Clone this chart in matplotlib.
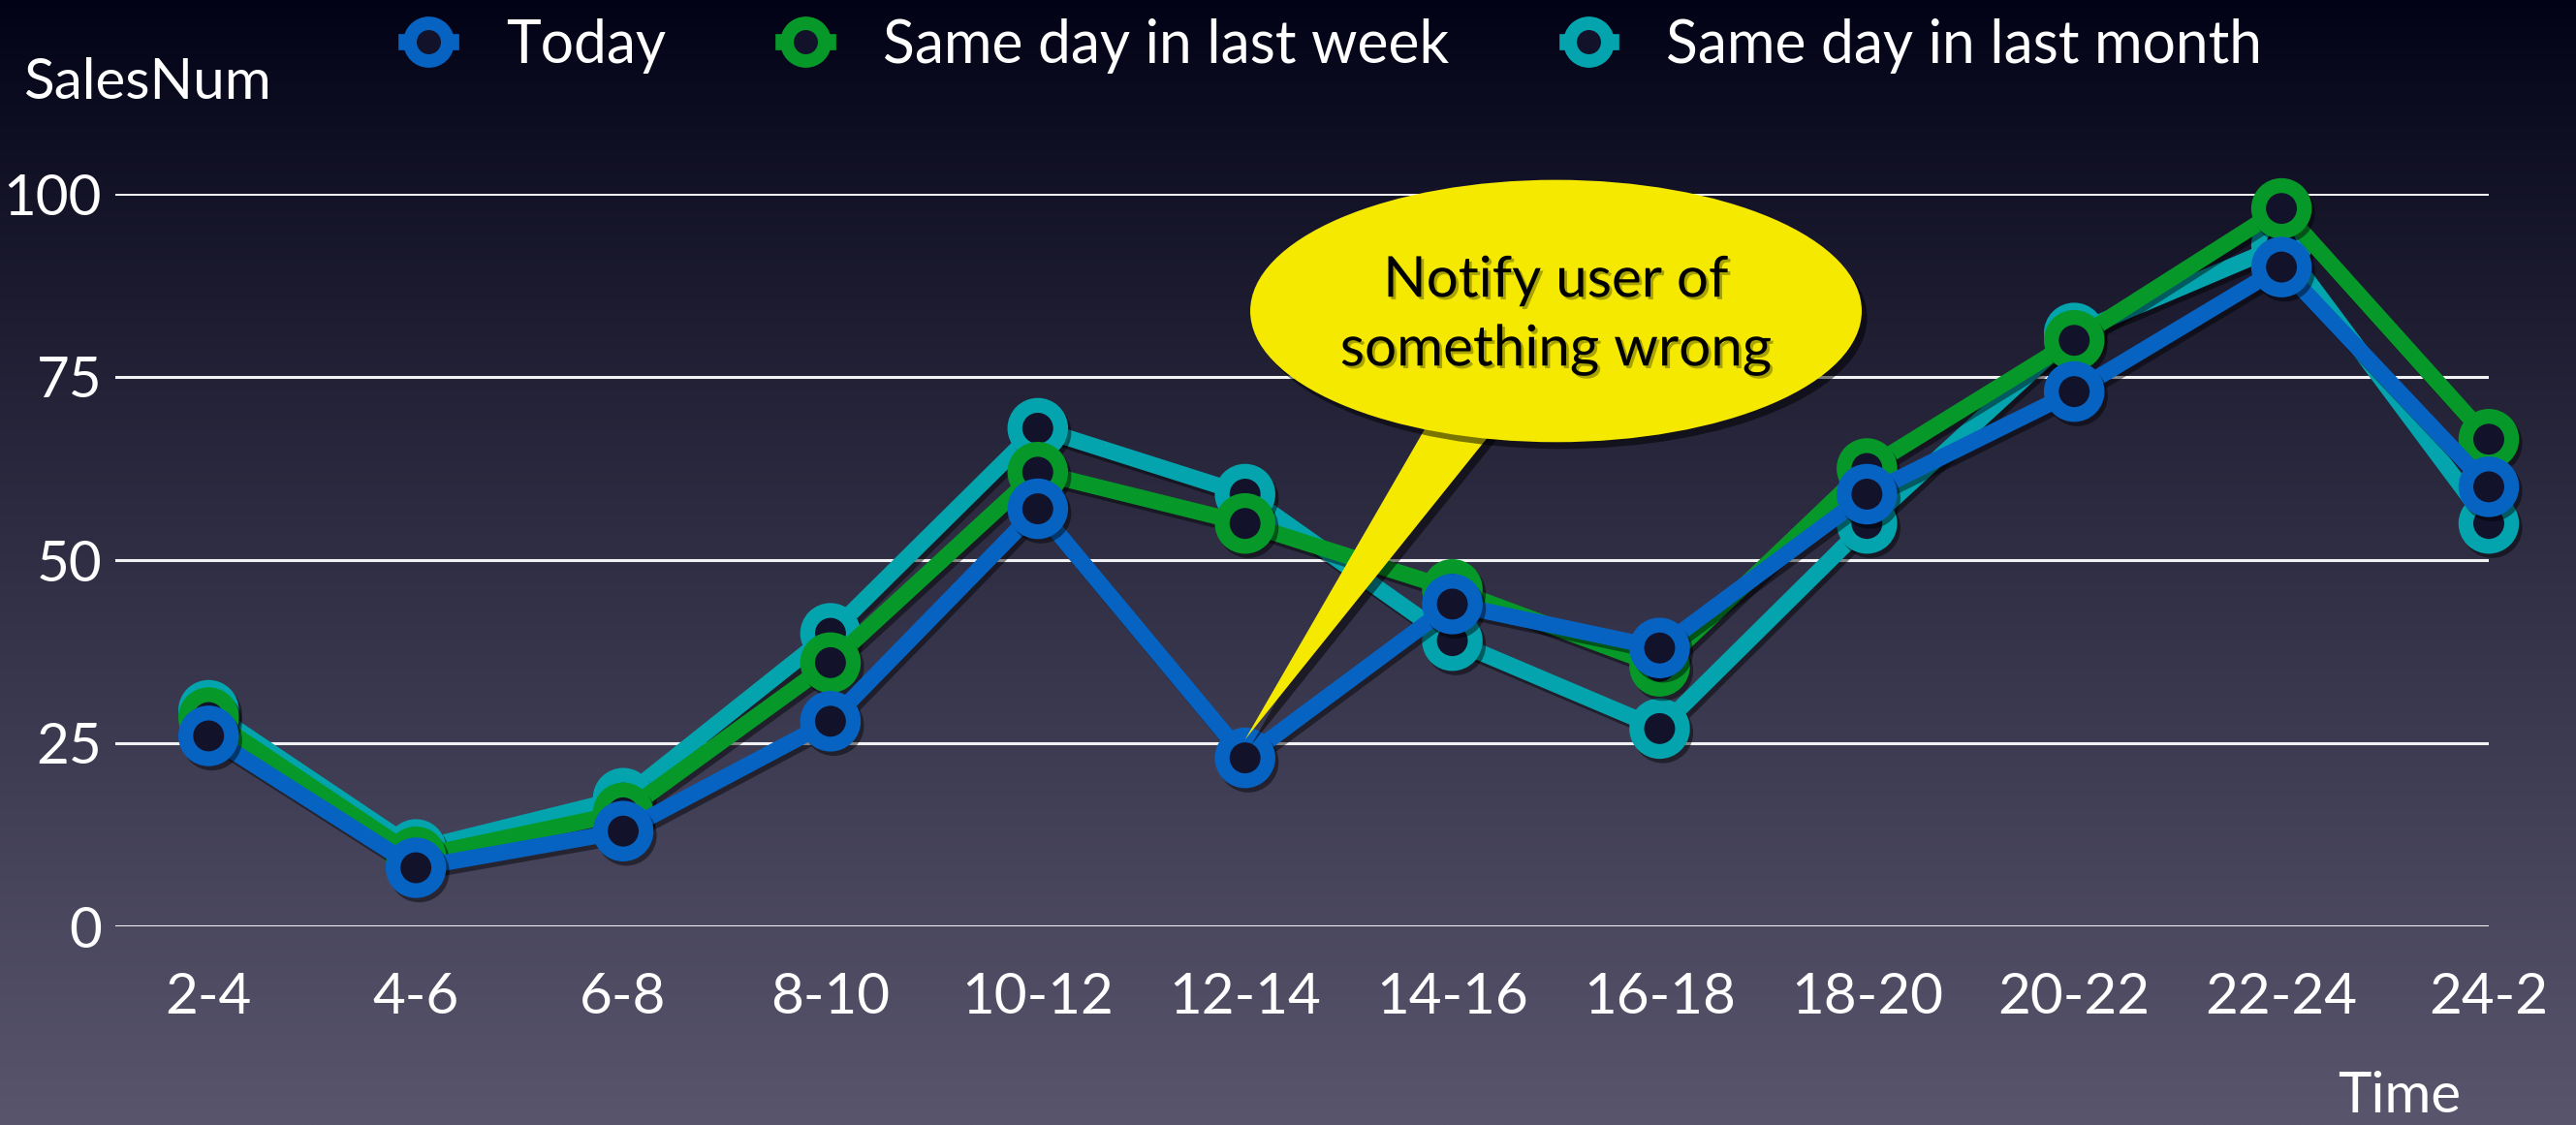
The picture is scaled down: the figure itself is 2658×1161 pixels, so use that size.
import numpy as np
import matplotlib
matplotlib.use("Agg")
import matplotlib.pyplot as plt
from matplotlib.patches import Ellipse, Polygon
import matplotlib.patheffects as pe
from matplotlib.lines import Line2D

# ---- data ----
categories = ["2-4", "4-6", "6-8", "8-10", "10-12", "12-14", "14-16",
              "16-18", "18-20", "20-22", "22-24", "24-2"]
today = [26, 8, 13, 28, 57, 23, 44, 38, 59, 73, 90, 60]
last_week = [28.5, 9.5, 15.5, 36, 62, 55, 46, 35.5, 62.5, 80, 98, 66.5]
last_month = [29.5, 10.5, 17.5, 40, 68, 59, 39, 27, 55, 81, 93, 55]
series_names = ["Today", "Same day in last week", "Same day in last month"]
y_ticks = [0, 25, 50, 75, 100]
callout_text = "Notify user of\nsomething wrong"

colors = {"Today": "#0663c2", "Same day in last week": "#06992a",
          "Same day in last month": "#03a4ad"}

plt.rcParams['font.family'] = ['Lato', 'DejaVu Sans']

W, H, DPI = 2658, 1161, 200
fig = plt.figure(figsize=(W / DPI, H / DPI), dpi=DPI)

# background gradient
bg = fig.add_axes([0, 0, 1, 1], zorder=-10)
t = np.linspace(0, 1, 512)[:, None]
top = np.array([2, 2, 22]) / 255.0
bot = np.array([88, 85, 108]) / 255.0
tt = t ** 0.9
grad = top[None, None, :] * (1 - tt[:, :, None]) + bot[None, None, :] * tt[:, :, None]
grad = np.repeat(grad, 4, axis=1)
bg.imshow(grad, aspect='auto', extent=[0, 1, 0, 1], origin='upper')
bg.set_axis_off()

left = 119 / W
right = 2568 / W
bottom = 1 - 956 / H
topf = 1 - 200 / H
ax = fig.add_axes([left, bottom, right - left, topf - bottom])
ax.set_facecolor('none')
x = np.arange(len(categories))
ax.set_xlim(-0.45, len(categories) - 1)
ax.set_ylim(0, 100)

for yv in y_ticks:
    ax.axhline(yv, color='#f2f2f5', lw=1.1, zorder=1)

shadow = [pe.SimpleLineShadow(offset=(1.2, -1.6), shadow_color='black', alpha=0.45),
          pe.Normal()]
face = '#12122a'
data = {"Today": today, "Same day in last week": last_week,
        "Same day in last month": last_month}
z = {"Same day in last month": 3, "Same day in last week": 4, "Today": 5}
for name in series_names[::-1]:
    ax.plot(x, data[name], color=colors[name], lw=6.0, marker='o', ms=17,
            mew=5.5, mfc=face, mec=colors[name], zorder=z[name],
            clip_on=False, path_effects=shadow, solid_joinstyle='miter')

for s in ax.spines.values():
    s.set_visible(False)
ax.set_xticks(x)
ax.set_xticklabels(categories)
ax.set_yticks(y_ticks)
ax.tick_params(axis='both', length=0, colors='white', labelsize=21)
ax.tick_params(axis='x', pad=17)
ax.tick_params(axis='y', pad=5)

# callout
cx, cy = 6.5, 84
ew, eh = 2.95, 35.8
tip_x, tip_y = 5, today[5] + 2.5
shadow_patch = [pe.SimplePatchShadow(offset=(2, -2.5), shadow_rgbFace='black', alpha=0.5),
                pe.Normal()]
tail = Polygon([[5.9, 69.5], [6.22, 68.5], [tip_x, tip_y]], closed=True,
               facecolor='#f5e900', edgecolor='none', zorder=8, clip_on=False,
               path_effects=shadow_patch)
ax.add_patch(tail)
ell = Ellipse((cx, cy), ew, eh, facecolor='#f5e900', edgecolor='none', zorder=9,
              clip_on=False, path_effects=shadow_patch)
ax.add_patch(ell)
ax.text(cx, cy - 0.6, callout_text, ha='center', va='center', fontsize=21,
        color='black', linespacing=1.42, zorder=10,
        path_effects=[pe.withSimplePatchShadow(offset=(1, -1), shadow_rgbFace='#777700', alpha=0.6)])

# axis titles
fig.text(24 / W, 1 - 85 / H, "SalesNum", color='white', fontsize=21, ha='left', va='center')
fig.text(2539 / W, 1 - 1132 / H, "Time", color='white', fontsize=21, ha='right', va='center')

# legend
handles = [Line2D([0], [0], color=colors[n], lw=6, marker='o', ms=14, mew=5,
                  mfc=face, mec=colors[n]) for n in series_names]
fig.legend(handles, series_names, loc='center', bbox_to_anchor=(0.518, 1 - 47 / H),
           ncol=3, frameon=False, fontsize=21.8, labelcolor='white',
           handlelength=0.75, handletextpad=0.95, columnspacing=2.0)

fig.savefig("out.png", dpi=DPI)
